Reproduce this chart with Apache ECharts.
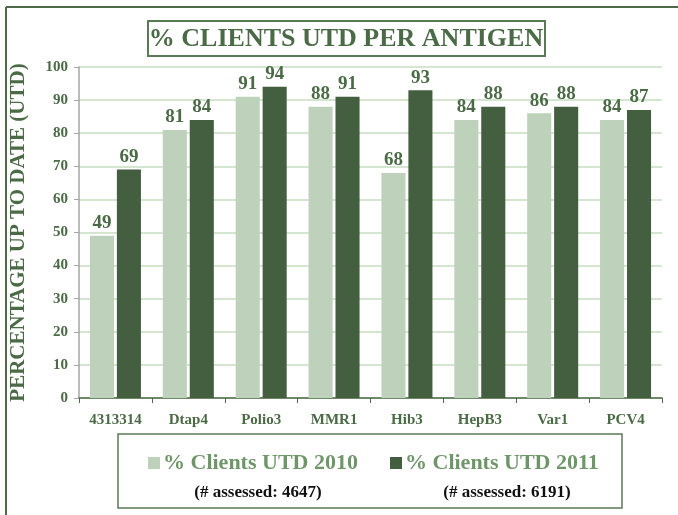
<!DOCTYPE html>
<html>
<head>
<meta charset="utf-8">
<script src="https://cdn.jsdelivr.net/npm/echarts@6/dist/echarts.min.js"></script>
<style>
  html, body { margin: 0; padding: 0; background: #fff; }
  #main { width: 678px; height: 515px; }
</style>
</head>
<body>
<div id="main"></div>
<script>
  // data
  let categories = ['4313314', 'Dtap4', 'Polio3', 'MMR1', 'Hib3', 'HepB3', 'Var1', 'PCV4']
  let utd2010 = [49, 81, 91, 88, 68, 84, 86, 84]
  let utd2011 = [69, 84, 94, 91, 93, 88, 88, 87]
  let seriesNames = ['% Clients UTD 2010', '% Clients UTD 2011']
  let assessed = ['(# assessed: 4647)', '(# assessed: 6191)']

  let font = 'Liberation Serif'
  let green = '#4b6b46'
  let colors = ['#bdd1bb', '#445e40']
  let myChart = echarts.init(document.getElementById('main'))

  let option = {
    color: colors,
    textStyle: { fontFamily: font },
    grid: { left: 73, right: 16, top: 67, bottom: 117 },
    graphic: [
      { type: 'line', shape: { x1: 6, y1: 7, x2: 678, y2: 7 }, style: { stroke: '#4f6b4a', lineWidth: 2 } },
      { type: 'line', shape: { x1: 6, y1: 7, x2: 6, y2: 515 }, style: { stroke: '#4f6b4a', lineWidth: 2 } },
      { type: 'rect', shape: { x: 148, y: 21, width: 397, height: 35 }, style: { fill: '#fff', stroke: '#5a7a55', lineWidth: 2 } },
      { type: 'text', x: 346, y: 39, style: { text: '% CLIENTS UTD PER ANTIGEN', font: 'bold 26px ' + font, fill: green, align: 'center', verticalAlign: 'middle' } },
      // legend box
      { type: 'rect', shape: { x: 118, y: 434, width: 504, height: 74 }, style: { fill: 'none', stroke: '#5a7a55', lineWidth: 1.5 } },
      { type: 'rect', shape: { x: 148, y: 457, width: 12, height: 12 }, style: { fill: colors[0] } },
      { type: 'text', x: 163, y: 463, style: { text: seriesNames[0], font: 'bold 22px ' + font, fill: '#6f9669', verticalAlign: 'middle' } },
      { type: 'rect', shape: { x: 390, y: 457, width: 12, height: 12 }, style: { fill: colors[1] } },
      { type: 'text', x: 405, y: 463, style: { text: seriesNames[1], font: 'bold 22px ' + font, fill: '#6f9669', verticalAlign: 'middle' } },
      { type: 'text', x: 258, y: 493, style: { text: assessed[0], font: 'bold 17px ' + font, fill: '#111', align: 'center', verticalAlign: 'middle' } },
      { type: 'text', x: 507, y: 493, style: { text: assessed[1], font: 'bold 17px ' + font, fill: '#111', align: 'center', verticalAlign: 'middle' } }
    ],
    xAxis: {
      type: 'category',
      data: categories,
      axisLine: { lineStyle: { color: '#4b6b46', width: 1.5 } },
      axisTick: { show: true, length: 5, lineStyle: { color: '#4b6b46' } },
      axisLabel: { interval: 0, margin: 15, fontFamily: font, fontWeight: 'bold', fontSize: 15, color: green }
    },
    yAxis: {
      type: 'value',
      min: 0,
      max: 100,
      interval: 10,
      name: 'PERCENTAGE UP TO DATE (UTD)',
      nameLocation: 'middle',
      nameGap: 50,
      nameTextStyle: { fontFamily: font, fontWeight: 'bold', fontSize: 21, color: green },
      axisLine: { show: true, lineStyle: { color: '#a6a6a6', width: 1.5 } },
      axisTick: { show: true, length: 5, lineStyle: { color: '#a6a6a6' } },
      axisLabel: { margin: 11, fontFamily: font, fontWeight: 'bold', fontSize: 15, color: green },
      splitLine: { lineStyle: { color: '#c6dcc0', width: 1.5 } }
    },
    series: [
      {
        name: seriesNames[0],
        type: 'bar',
        data: utd2010,
        barGap: '12%',
        barCategoryGap: '30%',
        label: { show: true, position: 'top', distance: 3, fontFamily: font, fontWeight: 'bold', fontSize: 19, color: green }
      },
      {
        name: seriesNames[1],
        type: 'bar',
        data: utd2011,
        barGap: '12%',
        barCategoryGap: '30%',
        label: { show: true, position: 'top', distance: 3, fontFamily: font, fontWeight: 'bold', fontSize: 19, color: green }
      }
    ]
  }

  myChart.setOption(option)
</script>
</body>
</html>
